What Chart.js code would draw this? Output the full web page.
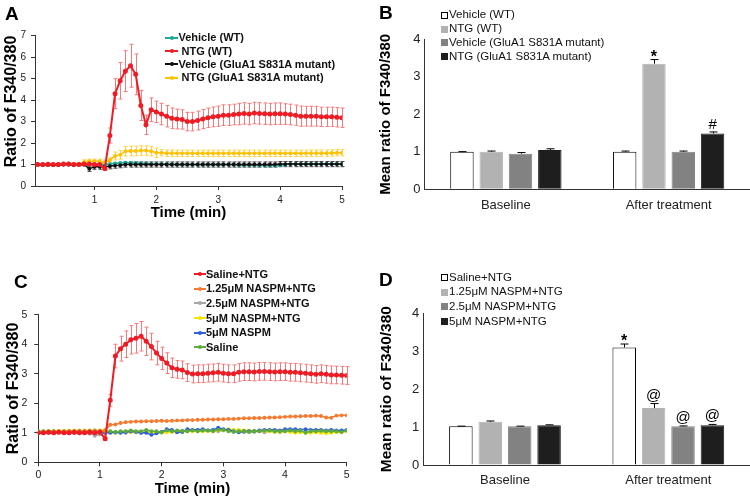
<!DOCTYPE html>
<html>
<head>
<meta charset="utf-8">
<script src="https://cdn.jsdelivr.net/npm/chart.js@4.4.1/dist/chart.umd.min.js"></script>
<style>
  body { margin: 0; background: #fff; }
  #fig { position: relative; width: 750px; height: 498px; overflow: hidden; font-family: "Liberation Sans", Arial, sans-serif; color: #111; }
  #fig canvas { position: absolute; }
  .tag { position: absolute; font-size: 19px; line-height: 19px; font-weight: bold; color: #000; }
  .mk, .lt { position: absolute; white-space: pre; }
</style>
</head>
<body>
<div id="fig">
  <canvas id="chartA" width="375" height="249" style="left:0;top:0"></canvas>
  <canvas id="chartB" width="375" height="249" style="left:375px;top:0"></canvas>
  <canvas id="chartC" width="375" height="249" style="left:0;top:249px"></canvas>
  <canvas id="chartD" width="375" height="249" style="left:375px;top:249px"></canvas>
  <div class="tag" style="left:5px;top:4px">A</div>
  <div class="tag" style="left:379px;top:2.5px">B</div>
  <div class="tag" style="left:14px;top:271.5px">C</div>
  <div class="tag" style="left:379px;top:270px">D</div>
</div>
<script>
// time points (seconds)
const secC = [0,5,10,15,20,25,30,35,40,45,50,55,60,65,70,75,80,85,90,95,100,105,110,115,120,125,130,135,140,145,150,155,160,165,170,175,180,185,190,195,200,205,210,215,220,225,230,235,240,245,250,255,260,265,270,275,280,285,290,295,300];
const secA = [5,10,15,20,25,30,35,40,45,50,55,60,65,70,75,80,85,90,95,100,105,110,115,120,125,130,135,140,145,150,155,160,165,170,175,180,185,190,195,200,205,210,215,220,225,230,235,240,245,250,255,260,265,270,275,280,285,290,295,300];

// ---- panel A ----
const labelsA = ['Vehicle (WT)', 'NTG (WT)', 'Vehicle (GluA1 S831A mutant)', 'NTG (GluA1 S831A mutant)'];
const tealA = [1.0,1.0,1.0,1.0,1.0,1.0,1.0,1.0,1.0,1.0, 1.0,1.0,1.0,1.0,1.03,1.05,1.07,1.08,1.08,1.07,
  1.05,1.05,1.03,1.02,1.02,1.02,1.0,1.0,1.0,1.0, 1.0,1.0,1.0,1.0,1.0,1.0,1.0,1.0,1.0,0.98,
  0.98,0.97,0.97,0.96,0.95,0.95,0.95,0.96,1.0,1.02, 1.02,1.02,1.03,1.03,1.03,1.03,1.03,1.03,1.03,1.03];
const redA = [1.0,1.0,1.01,1.0,1.0,1.02,1.03,1.0,1.0,1.02, 1.02,1.0,1.0,0.82,2.35,4.3,4.9,5.35,5.6,5.2,
  3.75,2.85,3.55,3.45,3.35,3.25,3.15,3.12,3.1,3.0, 3.0,3.05,3.12,3.18,3.22,3.25,3.3,3.3,3.33,3.35,
  3.38,3.35,3.4,3.38,3.37,3.35,3.37,3.37,3.35,3.33, 3.3,3.25,3.25,3.25,3.25,3.22,3.22,3.22,3.2,3.18];
const errRedA = [0.03,0.03,0.03,0.03,0.03,0.03,0.03,0.03,0.03,0.03, 0.03,0.03,0.03,0.1,0.35,0.7,0.85,0.95,1.0,0.95,
  0.7,0.45,0.55,0.5,0.5,0.5,0.48,0.46,0.45,0.43, 0.43,0.44,0.45,0.45,0.46,0.47,0.48,0.48,0.48,0.5,
  0.5,0.5,0.5,0.5,0.5,0.5,0.5,0.5,0.48,0.48, 0.47,0.47,0.46,0.46,0.46,0.45,0.45,0.45,0.45,0.45];
const blackA = [1.0,0.98,0.98,0.97,0.98,1.0,1.0,0.98,1.0,1.0, 0.8,0.9,0.9,0.9,0.92,0.95,0.97,1.0,1.0,1.0,
  1.0,1.0,1.0,1.0,1.0,1.0,1.0,1.0,1.0,1.0, 1.0,1.0,1.0,1.0,1.0,1.0,1.0,1.0,1.0,1.0,
  1.0,1.0,1.0,1.0,1.0,1.0,1.0,1.02,1.02,1.02, 1.02,1.02,1.02,1.02,1.02,1.02,1.02,1.02,1.02,1.02];
const errBlackA = [0.02,0.02,0.02,0.02,0.02,0.02,0.02,0.02,0.02,0.02, 0.12,0.12,0.12,0.12,0.12,0.12,0.12,0.12,0.12,0.12,
  0.12,0.12,0.12,0.12,0.12,0.12,0.12,0.12,0.12,0.12, 0.12,0.12,0.12,0.12,0.12,0.12,0.12,0.12,0.12,0.12,
  0.12,0.12,0.12,0.12,0.12,0.12,0.12,0.12,0.12,0.12, 0.12,0.12,0.12,0.12,0.12,0.12,0.12,0.12,0.12,0.12];
const yellowA = [1.0,1.0,1.0,1.0,1.02,1.04,1.05,1.03,1.02,1.12, 1.15,1.15,1.15,1.1,1.2,1.4,1.45,1.62,1.63,1.63,
  1.65,1.65,1.62,1.55,1.55,1.53,1.53,1.52,1.52,1.52, 1.52,1.52,1.52,1.52,1.52,1.52,1.52,1.52,1.52,1.52,
  1.52,1.52,1.52,1.52,1.52,1.52,1.52,1.52,1.52,1.52, 1.52,1.52,1.52,1.53,1.53,1.53,1.53,1.54,1.55,1.55];
const errYellowA = [0.03,0.03,0.03,0.03,0.03,0.03,0.03,0.03,0.03,0.1, 0.1,0.1,0.1,0.1,0.12,0.18,0.2,0.22,0.22,0.22,
  0.22,0.22,0.22,0.22,0.15,0.15,0.15,0.15,0.15,0.15, 0.15,0.15,0.15,0.15,0.15,0.15,0.15,0.15,0.15,0.15,
  0.15,0.15,0.15,0.15,0.15,0.15,0.15,0.15,0.15,0.15, 0.15,0.15,0.15,0.15,0.15,0.15,0.15,0.15,0.15,0.15];
const ticksA = [1, 2, 3, 4, 5];

// ---- panel C ----
const labelsC = ['Saline+NTG', '1.25\u03bcM NASPM+NTG', '2.5\u03bcM NASPM+NTG', '5\u03bcM NASPM+NTG', '5\u03bcM NASPM', 'Saline'];
const redC = [1.0,1.0,1.02,1.0,1.02,1.0,1.0,1.02,1.0,1.0, 1.02,1.0,1.02,0.8,2.1,3.6,3.85,4.0,4.15,4.2,
  4.27,4.1,3.92,3.7,3.52,3.36,3.2,3.15,3.13,3.04, 2.99,3.0,3.0,3.02,3.03,3.05,3.02,3.0,3.0,3.05,
  3.07,3.07,3.06,3.08,3.08,3.07,3.06,3.07,3.07,3.05, 3.05,3.03,3.02,3.0,2.98,3.0,2.98,2.96,2.96,2.95, 2.94];
const errRedC = [0.03,0.03,0.03,0.03,0.03,0.03,0.03,0.03,0.03,0.03, 0.03,0.03,0.03,0.05,0.2,0.4,0.42,0.45,0.48,0.5,
  0.5,0.48,0.45,0.4,0.38,0.35,0.33,0.3,0.3,0.3, 0.3,0.3,0.3,0.3,0.3,0.3,0.3,0.3,0.3,0.3,
  0.3,0.3,0.3,0.3,0.3,0.3,0.3,0.3,0.3,0.3, 0.3,0.3,0.3,0.3,0.3,0.3,0.3,0.3,0.3,0.3, 0.3];
const orangeC = [1.0,1.02,1.03,1.04,1.05,1.04,1.05,1.05,1.05,1.06, 1.06,1.06,1.07,1.08,1.27,1.28,1.33,1.36,1.37,1.38,
  1.38,1.39,1.39,1.4,1.41,1.4,1.41,1.42,1.42,1.43, 1.43,1.44,1.44,1.45,1.45,1.46,1.46,1.47,1.47,1.48,
  1.49,1.49,1.5,1.5,1.51,1.52,1.52,1.53,1.54,1.55, 1.55,1.56,1.57,1.57,1.58,1.57,1.52,1.51,1.58,1.59, 1.59];
const grayC = [1.0,1.02,1.02,1.03,1.02,1.03,1.02,1.03,1.02,1.0, 0.97,0.9,0.95,1.0,1.02,1.0,1.02,1.0,1.03,1.02,
  1.0,1.02,1.0,1.03,1.02,1.05,1.05,1.03,1.05,1.06, 1.05,1.08,1.05,1.08,1.07,1.05,1.08,1.1,1.05,1.03,
  1.02,1.03,1.03,1.05,1.02,1.05,1.03,1.02,1.05,1.05, 1.02,1.03,1.05,1.02,1.03,1.02,1.03,1.05,1.03,1.02, 1.05];
const yellowC = [1.03,1.05,1.06,1.06,1.07,1.07,1.07,1.08,1.07,1.08, 1.08,1.08,1.08,1.1,1.02,1.0,1.02,1.03,1.02,1.03,
  1.03,1.02,1.02,1.0,1.0,1.02,1.03,1.03,1.02,1.05, 1.05,1.05,1.05,1.05,1.05,1.08,1.1,1.12,1.1,1.1,
  1.08,1.08,1.07,1.07,1.05,1.05,1.03,1.03,1.05,1.03, 1.0,1.02,1.0,1.0,1.02,1.0,0.98,1.0,1.02,1.03, 1.05];
const blueC = [1.0,1.0,1.0,1.0,1.02,1.0,1.02,1.0,1.0,1.02, 1.02,1.0,1.02,1.0,1.0,1.02,1.0,1.02,1.05,1.03,
  1.0,1.0,0.93,0.98,1.03,1.12,1.1,1.02,1.03,1.12, 1.1,1.1,1.12,1.08,1.1,1.17,1.12,1.1,1.05,1.02,
  1.05,1.05,1.05,1.08,1.1,1.1,1.1,1.08,1.12,1.12, 1.12,1.1,1.12,1.1,1.1,1.1,1.08,1.1,1.08,1.08, 1.1];
const greenC = [1.05,1.05,1.05,1.05,1.03,1.05,1.05,1.05,1.07,1.05, 1.07,1.08,1.05,1.05,1.05,1.03,1.05,1.05,1.08,1.05,
  1.05,1.1,1.05,1.05,1.02,1.08,1.05,1.08,1.07,1.05, 1.08,1.05,1.08,1.08,1.05,1.1,1.1,1.05,1.03,1.05,
  1.05,1.03,1.05,1.05,1.07,1.08,1.05,1.05,1.05,1.08, 1.05,1.07,1.0,1.05,1.05,1.07,1.05,1.05,1.05,1.03, 1.08];

// ---- panels B and D (bars) ----
const groups = ['Baseline', 'After treatment'];
const labelsB = ['Vehicle (WT)', 'NTG (WT)', 'Vehicle (GluA1 S831A mutant)', 'NTG (GluA1 S831A mutant)'];
const meanB = [[1.0, 1.0], [1.0, 3.35], [0.95, 1.0], [1.05, 1.49]];
const semB = [[0.005, 0.02], [0.02, 0.11], [0.03, 0.02], [0.03, 0.04]];
const markB = [['', ''], ['', '*'], ['', ''], ['', '#']];
const labelsD = ['Saline+NTG', '1.25\u03bcM NASPM+NTG', '2.5\u03bcM NASPM+NTG', '5\u03bcM NASPM+NTG'];
const meanD = [[1.02, 3.1], [1.14, 1.5], [1.02, 1.02], [1.05, 1.05]];
const semD = [[0.005, 0.09], [0.02, 0.12], [0.005, 0.01], [0.01, 0.02]];
const markD = [['', '*'], ['', '@'], ['', '@'], ['', '@']];

const barFill = ['#ffffff', '#b2b2b2', '#828282', '#1e1e1e'];
const barEdge = ['#000000', '#b2b2b2', '#828282', '#1e1e1e'];

Chart.defaults.font.family = '"Liberation Sans", Arial, sans-serif';
Chart.defaults.color = '#222';
Chart.defaults.animation = false;
Chart.defaults.plugins.legend.display = false;
Chart.defaults.plugins.tooltip.enabled = false;

// error bars, drawn from each dataset's err array through the y scale
function drawErrors(chart, front) {
    const ctx = chart.ctx;
    const y = chart.scales.y;
    chart.data.datasets.forEach((ds, i) => {
        if (!ds.err || !!ds.errFront !== front) return;
        const meta = chart.getDatasetMeta(i);
        ctx.save();
        ctx.strokeStyle = ds.errColor || '#000';
        ctx.lineWidth = 1;
        meta.data.forEach((el, j) => {
            const e = ds.err[j];
            if (!e) return;
            const v = ds.vals[j];
            const x = Math.round(el.x) + 0.5;
            const top = y.getPixelForValue(v + e);
            const bot = y.getPixelForValue(ds.errUp ? v : v - e);
            const cap = ds.errCap || 2;
            ctx.beginPath();
            ctx.moveTo(x, top); ctx.lineTo(x, bot);
            ctx.moveTo(x - cap, top); ctx.lineTo(x + cap, top);
            if (!ds.errUp) { ctx.moveTo(x - cap, bot); ctx.lineTo(x + cap, bot); }
            ctx.stroke();
        });
        ctx.restore();
    });
}
const errorBars = {
    id: 'errorBars',
    beforeDatasetsDraw(chart) { drawErrors(chart, false); },
    afterDatasetsDraw(chart) { drawErrors(chart, true); }
};

// significance marks above the bars
const markShift = { '*': 2, '#': -3, '@': -4 };
const barMarks = {
    id: 'barMarks',
    afterDatasetsDraw(chart) {
        const ctx = chart.ctx;
        const y = chart.scales.y;
        chart.data.datasets.forEach((ds, i) => {
            if (!ds.marks) return;
            chart.getDatasetMeta(i).data.forEach((el, j) => {
                const m = ds.marks[j];
                if (!m) return;
                const top = y.getPixelForValue(ds.vals[j] + ds.err[j]);
                ctx.save();
                ctx.font = (m === '*' ? 'bold 16px ' : '15px ') + '"Liberation Sans", Arial, sans-serif';
                ctx.fillStyle = '#000';
                ctx.textAlign = 'center';
                ctx.textBaseline = 'alphabetic';
                ctx.fillText(m, el.x, top + markShift[m]);
                ctx.restore();
            });
        });
    }
};

function lineSet(label, sec, vals, color, extra) {
    return Object.assign({
        label: label,
        data: vals.map((v, i) => ({ x: sec[i] / 60, y: v })),
        vals: vals,
        borderColor: color,
        backgroundColor: color,
        borderWidth: 1.5,
        pointRadius: 1.2,
        pointHoverRadius: 0,
        tension: 0
    }, extra);
}

function lineAxes(o) {
    return {
        x: {
            type: 'linear', min: o.xmin, max: 5,
            afterBuildTicks: o.xticks ? (s => { s.ticks = o.xticks.map(v => ({ value: v })); }) : undefined,
            afterFit: s => { s.height = o.xh; },
            grid: { drawOnChartArea: false, color: '#333', tickLength: 4 },
            border: { color: '#333' },
            ticks: { stepSize: 1, font: { size: o.tick }, padding: o.xpad, maxRotation: 0, color: '#222' },
            title: { display: true, text: 'Time (min)', color: '#000', font: { size: 15, weight: 'bold' }, padding: 0 }
        },
        y: {
            min: 0, max: o.ymax,
            afterFit: s => { s.width = o.yw; },
            grid: { drawOnChartArea: false, color: '#333', tickLength: 4 },
            border: { color: '#333' },
            ticks: { stepSize: 1, font: { size: o.tick }, padding: o.ypad, color: '#222' },
            title: { display: true, text: 'Ratio of F340/380', align: o.yalign, color: '#000', font: { size: 16, weight: 'bold' }, padding: { top: o.tpad, bottom: 0 } }
        }
    };
}

new Chart(document.getElementById('chartA'), {
    type: 'line',
    data: {
        datasets: [
            lineSet(labelsA[1], secA, redA, '#ee1c25', { order: 0, borderWidth: 2, pointRadius: 1.5, err: errRedA, errColor: '#f27a7a' }),
            lineSet(labelsA[3], secA, yellowA, '#ffc000', { order: 1, err: errYellowA, errColor: '#ffd24d' }),
            lineSet(labelsA[2], secA, blackA, '#111111', { order: 2, err: errBlackA, errColor: '#444444' }),
            lineSet(labelsA[0], secA, tealA, '#1fa99a', { order: 3 })
        ]
    },
    options: {
        responsive: false,
        layout: { padding: { left: 0, top: 35.7, right: 33, bottom: 27.3 } },
        scales: lineAxes({ xmin: 0.04, xticks: ticksA, xh: 35.7, xpad: 4, ymax: 7, yw: 35, ypad: 5, tick: 10, yalign: 'end', tpad: 2 })
    },
    plugins: [errorBars]
});

new Chart(document.getElementById('chartC'), {
    type: 'line',
    data: {
        datasets: [
            lineSet(labelsC[0], secC, redC, '#ee1c25', { order: 0, borderWidth: 2, pointRadius: 1.5, err: errRedC, errColor: '#f27a7a' }),
            lineSet(labelsC[1], secC, orangeC, '#f47b30', { order: 1 }),
            lineSet(labelsC[5], secC, greenC, '#5eab3e', { order: 2 }),
            lineSet(labelsC[4], secC, blueC, '#2f62d6', { order: 3 }),
            lineSet(labelsC[3], secC, yellowC, '#f2e600', { order: 4 }),
            lineSet(labelsC[2], secC, grayC, '#a6a6a6', { order: 5 })
        ]
    },
    options: {
        responsive: false,
        layout: { padding: { left: 0, top: 65.7, right: 28.3, bottom: 0 } },
        scales: lineAxes({ xmin: 0, xh: 35.7, xpad: 3, ymax: 5, yw: 38.3, ypad: 7, tick: 10.5, yalign: 'center', tpad: 4 })
    },
    plugins: [errorBars]
});

function barChart(id, labels, means, sems, marks, top, yw, xh, title) {
    return new Chart(document.getElementById(id), {
        type: 'bar',
        data: {
            labels: groups,
            datasets: labels.map((lab, i) => ({
                label: lab,
                data: means[i],
                vals: means[i],
                err: sems[i],
                errUp: true,
                errFront: true,
                errCap: 4,
                errColor: '#000',
                marks: marks[i],
                backgroundColor: barFill[i],
                borderColor: barEdge[i],
                borderWidth: 1,
                categoryPercentage: 0.72,
                barPercentage: 0.8
            }))
        },
        options: {
            responsive: false,
            layout: { padding: { left: 0, top: top, right: 0, bottom: 0 } },
            scales: {
                x: {
                    afterFit: s => { s.height = xh; },
                    grid: { drawOnChartArea: false, drawTicks: false },
                    border: { color: '#333' },
                    ticks: { font: { size: 13 }, padding: 8, color: '#222' }
                },
                y: {
                    min: 0, max: 4,
                    afterFit: s => { s.width = yw; },
                    grid: { drawOnChartArea: false, drawTicks: false },
                    border: { color: '#333' },
                    ticks: { stepSize: 1, font: { size: 13 }, padding: 4, color: '#222' },
                    title: { display: true, text: 'Mean ratio of F340/380', color: '#000', font: { size: title, weight: 'bold' }, padding: { top: 2, bottom: 0 } }
                }
            }
        },
        plugins: [errorBars, barMarks]
    });
}
barChart('chartB', labelsB, meanB, semB, markB, 39.3, 49.5, 59.7, 15);
barChart('chartD', labelsD, meanD, semD, markD, 64.3, 48.3, 33, 15.5);

// legends (html text)
const fig = document.getElementById('fig');
function addLegend(entries, o) {
    entries.forEach((en, i) => {
        const cy = o.ys[i];
        const mk = document.createElement('div');
        mk.className = 'mk';
        if (o.kind === 'line') {
            mk.style.cssText = `left:${o.mx}px;top:${cy - 1}px;width:${o.mw}px;height:2px;background:${en.color}`;
            const dot = document.createElement('div');
            dot.className = 'mk';
            dot.style.cssText = `left:${o.mx + o.mw / 2 - 2}px;top:${cy - 2}px;width:4px;height:4px;border-radius:2px;background:${en.color}`;
            fig.appendChild(dot);
        } else {
            mk.style.cssText = `left:${o.mx}px;top:${cy - 3.5}px;width:7px;height:7px;box-sizing:border-box;background:${en.color};border:1px solid ${en.edge}`;
        }
        fig.appendChild(mk);
        const tx = document.createElement('div');
        tx.className = 'lt';
        tx.textContent = en.label;
        tx.style.cssText = `left:${o.tx}px;top:${cy - o.size * 0.59}px;font-size:${o.size}px;line-height:${o.size * 1.2}px;font-weight:${o.bold ? 'bold' : 'normal'};color:#111`;
        fig.appendChild(tx);
    });
}
addLegend([
    { label: labelsA[0], color: '#1fa99a' },
    { label: ' ' + labelsA[1], color: '#ee1c25' },
    { label: labelsA[2], color: '#111111' },
    { label: ' ' + labelsA[3], color: '#ffc000' }
], { kind: 'line', mx: 165, mw: 13, tx: 178.5, ys: [37.7, 51, 64.3, 77.7], size: 11, bold: true });
addLegend([
    { label: labelsC[0], color: '#ee1c25' },
    { label: labelsC[1], color: '#f47b30' },
    { label: labelsC[2], color: '#a6a6a6' },
    { label: labelsC[3], color: '#f2e600' },
    { label: labelsC[4], color: '#2f62d6' },
    { label: labelsC[5], color: '#5eab3e' }
], { kind: 'line', mx: 194, mw: 12, tx: 206, ys: [274, 288.7, 303.3, 318, 332.6, 347.3], size: 11, bold: true });
addLegend(labelsB.map((l, i) => ({ label: l, color: barFill[i], edge: barEdge[i] })),
    { kind: 'box', mx: 440.5, tx: 449, ys: [15, 29, 42.7, 56.7], size: 11.5, bold: false });
addLegend(labelsD.map((l, i) => ({ label: l, color: barFill[i], edge: barEdge[i] })),
    { kind: 'box', mx: 440.5, tx: 449, ys: [277.3, 292, 306.7, 321.3], size: 11.5, bold: false });
</script>
</body>
</html>
